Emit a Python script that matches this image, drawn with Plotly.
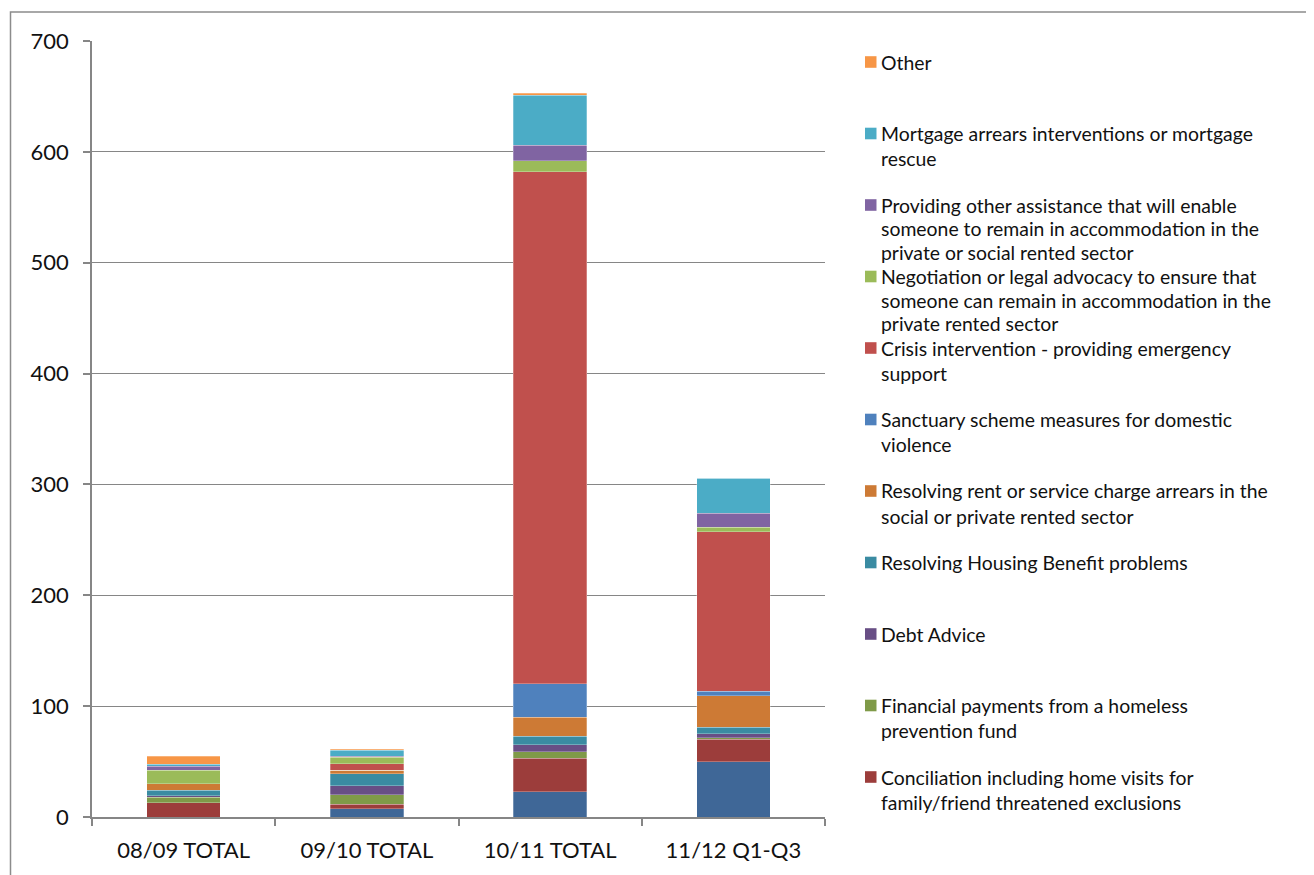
import plotly.graph_objects as go

# ---------------- data ----------------
categories = ["08/09 TOTAL", "09/10 TOTAL", "10/11 TOTAL", "11/12 Q1-Q3"]

# series listed bottom -> top of the stack
series_names = [
    "Other prevention activity",
    "Conciliation including home visits for<br>family/friend threatened exclusions",
    "Financial payments from a homeless<br>prevention fund",
    "Debt Advice",
    "Resolving Housing Benefit problems",
    "Resolving rent or service charge arrears in the<br>social or private rented sector",
    "Sanctuary scheme measures for domestic<br>violence",
    "Crisis intervention - providing emergency<br>support",
    "Negotiation or legal advocacy to ensure that<br>someone can remain in accommodation in the<br>private rented sector",
    "Providing other assistance that will enable<br>someone to remain in accommodation in the<br>private or social rented sector",
    "Mortgage arrears interventions or mortgage<br>rescue",
    "Other",
]
show_in_legend = [False] + [True] * 11

values_other_activity = [0, 7.5, 23, 50]
values_conciliation = [13, 4, 30, 20]
values_financial = [5, 8.5, 6, 1.5]
values_debt = [1, 8, 6, 3.5]
values_housing_benefit = [5, 11, 8, 6]
values_rent_arrears = [6, 3, 17, 28.5]
values_sanctuary = [0, 0, 30, 4]
values_crisis = [0, 6, 462, 144]
values_negotiation = [12, 6, 10, 4]
values_other_assistance = [4, 1, 14, 12.5]
values_mortgage = [1.5, 5, 45, 31.5]
values_other = [7.5, 1, 2, 0]

series_values = [
    values_other_activity, values_conciliation, values_financial, values_debt,
    values_housing_benefit, values_rent_arrears, values_sanctuary, values_crisis,
    values_negotiation, values_other_assistance, values_mortgage, values_other,
]

colors = [
    "#3F6797", "#9C3D3B", "#7F9A48", "#684E85", "#3A8BA2", "#CD7A35",
    "#4F81BD", "#C0504D", "#9BBB59", "#8064A2", "#4BACC6", "#F79646",
]

y_ticks = [0, 100, 200, 300, 400, 500, 600, 700]

# ---------------- layout helpers (screen pixel -> paper) ----------------
OFF = 8  # page body margin
W, H = 1314 - OFF, 875 - OFF
PL, PR, PT, PB = 92 - OFF, 825 - OFF, 41 - OFF, 817 - OFF


def px(xs):
    return (xs - OFF - PL) / (PR - PL)


def py(ys):
    return (PB - (ys - OFF)) / (PB - PT)


FONT = "Lato"
TEXT_COLOR = "#111111"
GRID = "#868686"

fig = go.Figure()
for name, vals, col, sl in zip(series_names, series_values, colors, show_in_legend):
    fig.add_trace(go.Bar(
        x=categories, y=vals, name=name.replace("<br>", " "),
        marker=dict(color=col, line=dict(color="rgba(255,255,255,0.45)", width=0.6)),
        showlegend=False,
    ))

# ---------------- manual legend (Excel-like evenly spaced entries) ----------------
shapes = []
annotations = []
legend_first_line = 62.0
legend_step = 71.5
entries = [(n, c) for n, c, s in zip(series_names, colors, show_in_legend) if s][::-1]
for i, (name, col) in enumerate(entries):
    y0 = legend_first_line + i * legend_step
    lines = name.split("<br>")
    line_h = 25.0 if len(lines) < 3 else 23.6
    shapes.append(dict(type="rect", xref="paper", yref="paper",
                       x0=px(865), x1=px(876.5), y0=py(y0 - 5.8), y1=py(y0 + 5.8),
                       fillcolor=col, line=dict(width=0)))
    for j, line in enumerate(lines):
        annotations.append(dict(
            text=line, xref="paper", yref="paper", x=px(879), y=py(y0 + j * line_h),
            xanchor="left", yanchor="middle", showarrow=False,
            font=dict(family=FONT, size=19.4, color=TEXT_COLOR),
        ))

# outer chart border
shapes.append(dict(type="rect", xref="paper", yref="paper",
                   x0=px(10.5), x1=px(1309.5), y0=py(900), y1=py(12),
                   line=dict(color="#8C8C8C", width=1.5), fillcolor="rgba(0,0,0,0)",
                   layer="below"))

fig.update_layout(
    barmode="stack",
    bargap=0.6,
    width=W, height=H,
    margin=dict(l=PL, r=W - PR, t=PT, b=H - PB, pad=0),
    paper_bgcolor="white",
    plot_bgcolor="white",
    font=dict(family=FONT, size=22, color=TEXT_COLOR),
    shapes=shapes,
    annotations=annotations,
    showlegend=False,
    xaxis=dict(
        type="category",
        showline=True, linecolor=GRID, linewidth=1.5,
        ticks="outside", tickson="boundaries", ticklen=7, tickcolor=GRID, tickwidth=1.5,
        tickfont=dict(family=FONT, size=22, color=TEXT_COLOR),
        ticklabelstandoff=13,
        showgrid=False,
    ),
    yaxis=dict(
        range=[0, 700],
        tickvals=y_ticks,
        showline=True, linecolor=GRID, linewidth=1.5,
        ticks="outside", ticklen=7, tickcolor=GRID, tickwidth=1.5,
        showgrid=True, gridcolor=GRID, gridwidth=1,
        tickfont=dict(family=FONT, size=22, color=TEXT_COLOR),
        ticklabelstandoff=10,
        zeroline=False,
    ),
)

fig.write_html("out.html")
